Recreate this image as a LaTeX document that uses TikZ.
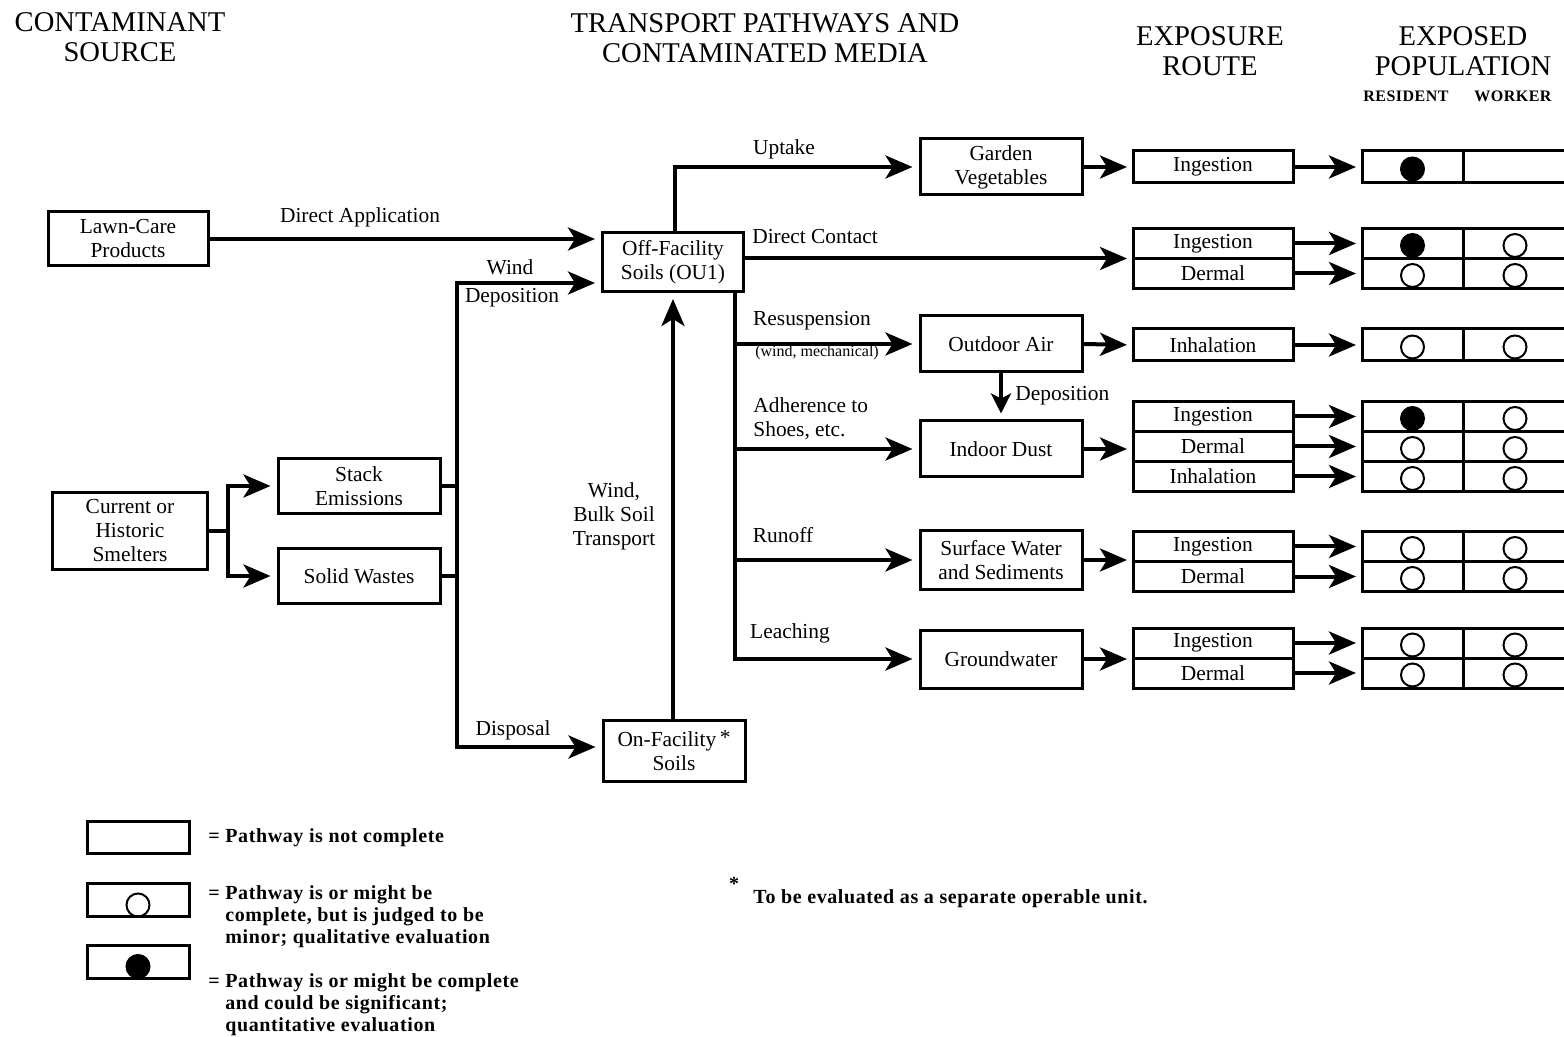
\documentclass[tikz,border=0pt]{standalone}
\usepackage{fontspec}
\setmainfont{Liberation Serif}
\newfontfamily\widebf[LetterSpace=3]{Liberation Serif}
\usetikzlibrary{arrows.meta,positioning}

\tikzset{
  box/.style={draw, line width=1.5pt, align=center, inner sep=0pt, minimum width=81pt, minimum height=28pt, font=\fontsize{10.7}{12}\selectfont},
  route/.style={draw, line width=1.5pt, inner sep=0pt, outer sep=0pt, minimum width=80pt, minimum height=15pt, font=\fontsize{10.7}{12}\selectfont},
  cell/.style={draw, line width=1.5pt, inner sep=0pt, outer sep=0pt, minimum width=50.5pt, minimum height=15pt},
  wcell/.style={cell, minimum width=52pt},
  opendot/.style={path picture={\draw[line width=1pt] ([yshift=#1]path picture bounding box.center) circle (5.75pt);}},
  opendot/.default=-1pt,
  fulldot/.style={path picture={\draw[line width=1pt, fill=black] ([yshift=#1]path picture bounding box.center) circle (5.75pt);}},
  fulldot/.default=-1pt,
  flow/.style={line width=2pt, shorten >=3pt, -{Stealth[length=13.5pt, width=11.5pt, inset=3.5pt]}},
  joint/.style={line width=2pt},
  lbl/.style={font=\fontsize{10.7}{12}\selectfont, inner sep=0pt, align=center},
  head/.style={font=\fontsize{14.3}{15}\selectfont, inner sep=0pt, align=center},
  colhead/.style={font=\widebf\bfseries\fontsize{8}{9}\selectfont, inner sep=0pt},
  legtxt/.style={font=\widebf\bfseries\fontsize{10}{11}\selectfont, inner sep=0pt, align=left},
}

\begin{document}
\begin{tikzpicture}[x=0.5pt,y=-0.5pt]
\useasboundingbox (0,0) rectangle (1564,1037);

% column headings
\node[head] (hsrc) at (120,37) {CONTAMINANT\\SOURCE};
\node[head] (hmed) at (765,38) {TRANSPORT PATHWAYS AND\\CONTAMINATED MEDIA};
\node[head] (hrte) at (1210,51) {EXPOSURE\\ROUTE};
\node[head] (hpop) at (1463,51) {EXPOSED\\POPULATION};
\node[colhead] (hres) at (1406,96) {RESIDENT};
\node[colhead] (hwrk) at (1513,96) {WORKER};

% sources
\node[box, minimum width=80pt, minimum height=27pt] (lawn) at (128,239) {Lawn-Care\\Products};
\node[box, minimum width=77.5pt, minimum height=38pt] (smelt) at (130,531) {Current or\\Historic\\Smelters};
\node[box, minimum height=27.5pt] (stack) at (359,486) {Stack\\Emissions};
\node[box, minimum height=27.5pt] (solid) at (359,576) {Solid Wastes};

% soils
\node[box, minimum width=70.5pt, minimum height=29.5pt] (offs) at (673,262) {Off-Facility\\Soils (OU1)};
\node[box, minimum width=71pt, minimum height=30.5pt] (ons) at (674,751) {On-Facility\,\raisebox{1pt}{*}\\Soils};

% media
\node[box] (garden) at (1001,167) {Garden\\Vegetables};
\node[box] (outair) at (1001,344) {Outdoor Air};
\node[box] (indust) at (1001,449) {Indoor Dust};
\node[box, minimum height=29pt] (surfw) at (1001,560) {Surface Water\\and Sediments};
\node[box, minimum height=29pt] (gwater) at (1001,659) {Groundwater};

% exposure routes
\node[route, minimum height=16pt] (rg1) at (1213,167) {Ingestion};
\node[route] (rd1) at (1213,243.5) {Ingestion};
\node[route, below=0pt of rd1] (rd2) {Dermal};
\node[route, minimum height=16pt] (ro1) at (1213,345) {Inhalation};
\node[route] (ri1) at (1213,416.5) {Ingestion};
\node[route, below=0pt of ri1] (ri2) {Dermal};
\node[route, below=0pt of ri2] (ri3) {Inhalation};
\node[route] (rs1) at (1213,546.5) {Ingestion};
\node[route, below=0pt of rs1] (rs2) {Dermal};
\node[route] (rw1) at (1213,643) {Ingestion};
\node[route, below=0pt of rw1] (rw2) {Dermal};

% exposed population
\node[cell, fulldot, minimum height=16pt] (pg1r) at (1412.5,167) {};
\node[wcell, minimum height=16pt, right=0pt of pg1r] (pg1w) {};
\node[cell, fulldot] (pd1r) at (1412.5,243.5) {};
\node[wcell, opendot, right=0pt of pd1r] (pd1w) {};
\node[cell, opendot, below=0pt of pd1r] (pd2r) {};
\node[wcell, opendot, right=0pt of pd2r] (pd2w) {};
\node[cell, opendot, minimum height=16pt] (po1r) at (1412.5,345) {};
\node[wcell, opendot, minimum height=16pt, right=0pt of po1r] (po1w) {};
\node[cell, fulldot] (pi1r) at (1412.5,416.5) {};
\node[wcell, opendot, right=0pt of pi1r] (pi1w) {};
\node[cell, opendot, below=0pt of pi1r] (pi2r) {};
\node[wcell, opendot, right=0pt of pi2r] (pi2w) {};
\node[cell, opendot, below=0pt of pi2r] (pi3r) {};
\node[wcell, opendot, right=0pt of pi3r] (pi3w) {};
\node[cell, opendot] (ps1r) at (1412.5,546.5) {};
\node[wcell, opendot, right=0pt of ps1r] (ps1w) {};
\node[cell, opendot, below=0pt of ps1r] (ps2r) {};
\node[wcell, opendot, right=0pt of ps2r] (ps2w) {};
\node[cell, opendot] (pw1r) at (1412.5,643) {};
\node[wcell, opendot, right=0pt of pw1r] (pw1w) {};
\node[cell, opendot, below=0pt of pw1r] (pw2r) {};
\node[wcell, opendot, right=0pt of pw2r] (pw2w) {};

% source side connectors
\coordinate (split) at (228,531);
\draw[flow] (smelt.east) -- (split) |- (stack.west);
\draw[flow] (smelt.east) -- (split) |- (solid.west);
\coordinate (busT) at (457,283);
\coordinate (busB) at (457,747);
\draw[joint] (stack.east) -- (stack.east -| busT);
\draw[joint] (solid.east) -- (solid.east -| busT);
\draw[flow] (busB) -- (busT) -- (busT -| offs.west);
\draw[flow] (busT) -- (busB) -- (busB -| ons.west);
\draw[flow] (lawn.east) -- (lawn.east -| offs.west);
\draw[flow] (ons.north -| offs.south) -- (offs.south);

\node[lbl] (ldirapp) at (360,217) {Direct Application};
\node[lbl] (lwind) at (510,267) {Wind};
\node[lbl] (lwdep) at (512,298) {Deposition};
\node[lbl] (ldisp) at (513,730) {Disposal};
\node[lbl] (lbulk) at (614,516) {Wind,\\Bulk Soil\\Transport};

% soil to media
\draw[flow] ([xshift=1pt]offs.north) |- (garden.west);
\draw[flow] (offs.east |- rd1.south) -- (rd1.south west);
\coordinate (trunk) at ([xshift=-5pt]offs.south east);
\draw[flow] (trunk) |- (gwater.west);
\draw[flow] (trunk |- outair.west) -- (outair.west);
\draw[flow] (trunk |- indust.west) -- (indust.west);
\draw[flow] (trunk |- surfw.west) -- (surfw.west);
\draw[flow, -{Stealth[length=10pt, width=10pt, inset=2.5pt]}] (outair.south) -- (indust.north);

\node[lbl] (luptake) at (784,149) {Uptake};
\node[lbl] (ldircon) at (815,237) {Direct Contact};
\node[lbl] (lresusp) at (812,321) {Resuspension};
\node[lbl, font=\fontsize{8}{9}\selectfont] (lwindmech) at (817,353) {(wind, mechanical)};
\node[lbl, align=left, anchor=west] (ladher) at (753,419) {Adherence to\\Shoes, etc.};
\node[lbl, anchor=west] (ldepos) at (1015,396) {Deposition};
\node[lbl] (lrunoff) at (783,535) {Runoff};
\node[lbl] (lleach) at (790,633) {Leaching};

% media to routes
\draw[flow] (garden.east) -- (rg1.west);
\draw[flow] (outair.east) -- (ro1.west);
\draw[flow] (indust.east) -- (indust.east -| ri2.west);
\draw[flow] (surfw.east) -- (surfw.east -| rs1.west);
\draw[flow] (gwater.east) -- (gwater.east -| rw1.west);

% routes to population
\draw[flow] (rg1.east) -- (pg1r.west);
\draw[flow] (rd1.east) -- (pd1r.west);
\draw[flow] (rd2.east) -- (pd2r.west);
\draw[flow] (ro1.east) -- (po1r.west);
\draw[flow] (ri1.east) -- (pi1r.west);
\draw[flow] (ri2.east) -- (pi2r.west);
\draw[flow] (ri3.east) -- (pi3r.west);
\draw[flow] (rs1.east) -- (ps1r.west);
\draw[flow] (rs2.east) -- (ps2r.west);
\draw[flow] (rw1.east) -- (pw1r.west);
\draw[flow] (rw2.east) -- (pw2r.west);

% legend
\node[cell, minimum width=51pt, minimum height=16pt] (lg1) at (138,837) {};
\node[cell, opendot=-2.5pt, minimum width=51pt, minimum height=16.5pt] (lg2) at (138,900) {};
\node[cell, fulldot=-2.5pt, minimum width=51pt, minimum height=16.5pt] (lg3) at (138,961.5) {};
\node[legtxt, anchor=west] (lt1) at (208,838) {= Pathway is not complete};
\node[legtxt, anchor=north west] (lt2) at (208,885) {= Pathway is or might be\\\hphantom{=\ }complete, but is judged to be\\\hphantom{=\ }minor; qualitative evaluation};
\node[legtxt, anchor=north west] (lt3) at (208,973) {= Pathway is or might be complete\\\hphantom{=\ }and could be significant;\\\hphantom{=\ }quantitative evaluation};
\node[legtxt] (fstar) at (734,884) {*};
\node[legtxt, anchor=west] (fnote) at (753,899) {To be evaluated as a separate operable unit.};
\end{tikzpicture}
\end{document}
